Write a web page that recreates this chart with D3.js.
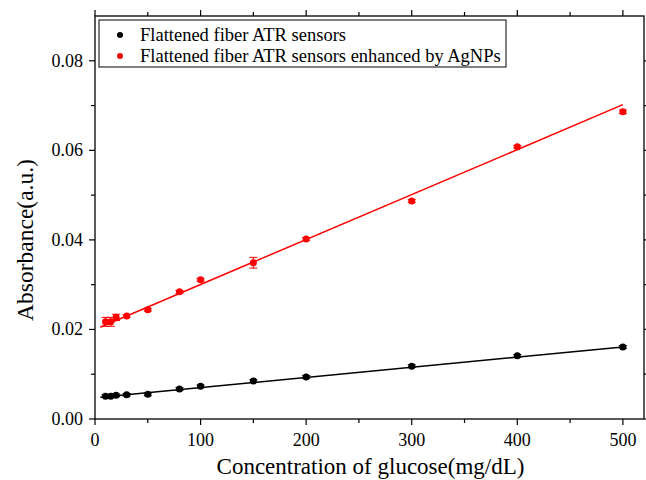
<!DOCTYPE html>
<html>
<head>
<meta charset="utf-8">
<script src="https://cdn.jsdelivr.net/npm/d3@7"></script>
<style>
  body { margin: 0; background: #fff; }
  svg text { font-family: "Liberation Serif", "Times New Roman", serif; fill: #000; }
</style>
</head>
<body>
<div id="chart"></div>
<script>
// glucose concentrations (mg/dL)
var conc = [10, 15, 20, 30, 50, 80, 100, 150, 200, 300, 400, 500];

// absorbance, plain flattened fiber
var plainAbs = [0.0051, 0.0051, 0.0053, 0.0054, 0.0055, 0.0067, 0.0073, 0.0085, 0.0094, 0.0118, 0.0141, 0.0161];
var plainErr = [0.0003, 0.0003, 0.0003, 0.0003, 0.0003, 0.0003, 0.0003, 0.0003, 0.0003, 0.0003, 0.0003, 0.0003];

// absorbance, enhanced by AgNPs
var agAbs = [0.0217, 0.0217, 0.0227, 0.0230, 0.0244, 0.0284, 0.0311, 0.0349, 0.0402, 0.0487, 0.0608, 0.0686];
var agErr = [0.0010, 0.0010, 0.0007, 0.0003, 0.0003, 0.0003, 0.0003, 0.0012, 0.0003, 0.0003, 0.0003, 0.0004];

// linear fits [intercept, slope]
var plainFit = [0.00475, 0.0000227];
var agFit = [0.0200, 0.0001004];
var fitRange = [5, 500];

var xTicks = [0, 100, 200, 300, 400, 500];
var yTicks = [0, 0.02, 0.04, 0.06, 0.08];

var seriesNames = ["Flattened fiber ATR sensors", "Flattened fiber ATR sensors enhanced by AgNPs"];
var seriesColors = ["#000000", "#ff0000"];

var width = 646, height = 480;
var margin = {top: 16, right: 2, bottom: 61, left: 95};

var svg = d3.select("#chart").append("svg")
    .attr("width", width)
    .attr("height", height);

var x = d3.scaleLinear().domain([0, 520]).range([margin.left, width - margin.right]);
var y = d3.scaleLinear().domain([0, 0.09]).range([height - margin.bottom, margin.top]);

var x0 = x.range()[0], x1 = x.range()[1];
var y0 = y.range()[0], y1 = y.range()[1];

// frame
svg.append("rect")
    .attr("x", x0).attr("y", y1)
    .attr("width", x1 - x0).attr("height", y0 - y1)
    .attr("fill", "none").attr("stroke", "#000").attr("stroke-width", 1.3);

var xMinor = d3.range(50, 520, 100);
var yMinor = d3.range(0.01, 0.09, 0.02);

// bottom and top ticks
function xTickMarks(ticks, len) {
    svg.append("g").selectAll("line").data(ticks).enter().append("line")
        .attr("x1", d => x(d)).attr("x2", d => x(d))
        .attr("y1", y0).attr("y2", y0 + len)
        .attr("stroke", "#000").attr("stroke-width", 1.2);
    svg.append("g").selectAll("line").data(ticks).enter().append("line")
        .attr("x1", d => x(d)).attr("x2", d => x(d))
        .attr("y1", y1).attr("y2", y1 - len)
        .attr("stroke", "#000").attr("stroke-width", 1.2);
}
xTickMarks(xTicks, 6);
xTickMarks(xMinor, 4);

function yTickMarks(ticks, len) {
    svg.append("g").selectAll("line").data(ticks).enter().append("line")
        .attr("x1", x0).attr("x2", x0 - len)
        .attr("y1", d => y(d)).attr("y2", d => y(d))
        .attr("stroke", "#000").attr("stroke-width", 1.2);
    svg.append("g").selectAll("line").data(ticks).enter().append("line")
        .attr("x1", x1).attr("x2", x1 + len)
        .attr("y1", d => y(d)).attr("y2", d => y(d))
        .attr("stroke", "#000").attr("stroke-width", 1.2);
}
yTickMarks(yTicks, 6);
yTickMarks(yMinor, 4);

// tick labels
svg.append("g").selectAll("text").data(xTicks).enter().append("text")
    .attr("x", d => x(d)).attr("y", y0 + 27)
    .attr("text-anchor", "middle")
    .style("font-size", "18px")
    .text(d => d);

svg.append("g").selectAll("text").data(yTicks).enter().append("text")
    .attr("x", x0 - 12).attr("y", d => y(d) + 6)
    .attr("text-anchor", "end")
    .style("font-size", "18px")
    .text(d => d3.format(".2f")(d));

// axis titles
svg.append("text")
    .attr("x", (x0 + x1) / 2 + 1).attr("y", 474)
    .attr("text-anchor", "middle")
    .style("font-size", "23px")
    .text("Concentration of glucose(mg/dL)");

svg.append("text")
    .attr("transform", "translate(33,240) rotate(-90)")
    .attr("text-anchor", "middle")
    .style("font-size", "23.5px")
    .text("Absorbance(a.u.)");

// fit lines
var fits = [plainFit, agFit];
fits.forEach(function(f, i) {
    svg.append("line")
        .attr("x1", x(fitRange[0])).attr("y1", y(f[0] + f[1] * fitRange[0]))
        .attr("x2", x(fitRange[1])).attr("y2", y(f[0] + f[1] * fitRange[1]))
        .attr("stroke", seriesColors[i]).attr("stroke-width", 1.5);
});

// points with error bars
var series = [
    conc.map((c, i) => ({x: c, y: plainAbs[i], e: plainErr[i]})),
    conc.map((c, i) => ({x: c, y: agAbs[i], e: agErr[i]}))
];

series.forEach(function(pts, i) {
    var g = svg.append("g");
    var col = seriesColors[i];
    var bars = g.selectAll("g.err").data(pts).enter().append("g").attr("class", "err");
    bars.append("line")
        .attr("x1", d => x(d.x)).attr("x2", d => x(d.x))
        .attr("y1", d => y(d.y - d.e)).attr("y2", d => y(d.y + d.e))
        .attr("stroke", col).attr("stroke-width", 1);
    bars.append("line")
        .attr("x1", d => x(d.x) - 4).attr("x2", d => x(d.x) + 4)
        .attr("y1", d => y(d.y - d.e)).attr("y2", d => y(d.y - d.e))
        .attr("stroke", col).attr("stroke-width", 1);
    bars.append("line")
        .attr("x1", d => x(d.x) - 4).attr("x2", d => x(d.x) + 4)
        .attr("y1", d => y(d.y + d.e)).attr("y2", d => y(d.y + d.e))
        .attr("stroke", col).attr("stroke-width", 1);
    g.selectAll("circle").data(pts).enter().append("circle")
        .attr("cx", d => x(d.x)).attr("cy", d => y(d.y))
        .attr("r", 3.5)
        .attr("fill", col);
});

// legend
var lg = svg.append("g");
lg.append("rect")
    .attr("x", 99).attr("y", 20)
    .attr("width", 407).attr("height", 47)
    .attr("fill", "#fff").attr("stroke", "#000").attr("stroke-width", 1);
seriesNames.forEach(function(name, i) {
    var cy = 35 + i * 21;
    lg.append("circle").attr("cx", 120).attr("cy", cy).attr("r", 3).attr("fill", seriesColors[i]);
    lg.append("text").attr("x", 140).attr("y", cy + 6)
        .style("font-size", "18.5px")
        .text(name);
});
</script>
</body>
</html>
